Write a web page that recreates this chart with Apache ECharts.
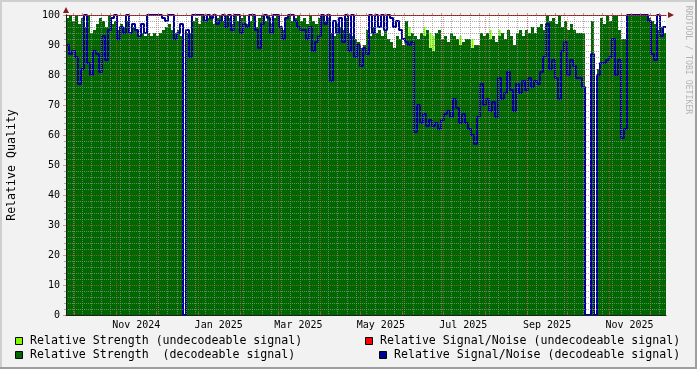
<!DOCTYPE html>
<html><head><meta charset="utf-8">
<script src="https://cdn.jsdelivr.net/npm/echarts@6/dist/echarts.min.js"></script>
<style>html,body{margin:0;padding:0;background:#F2F2F2}#c{width:697px;height:369px}</style>
</head><body><div id="c"></div>
<script>
// ---- data ----
const START = Date.UTC(2024, 8, 25);
const DAY = 86400000;
const SPAN_DAYS = 444;
const END = START + SPAN_DAYS * DAY;

// Relative Strength (decodeable signal), one sample per step
const strengthDecodeable = [
 99,100,98,100,97,99,96,100,94,95,
 97,99,98,96,100,97,98,95,97,96,
 98,94,96,95,93,94,93,94,93,94,
 93,94,95,96,97,95,94,95,93,0,
 94,94,98,99,97,100,98,99,100,97,
 99,100,98,100,99,97,100,98,99,100,
 97,98,100,96,99,100,98,100,97,99,
 100,96,95,99,100,98,99,100,98,99,
 97,100,98,97,99,100,98,99,94,93,
 97,96,95,99,94,93,92,91,89,90,
 95,93,96,94,95,93,95,92,91,89,
 93,92,90,98,93,94,93,92,94,93,
 95,89,88,94,95,92,93,91,94,93,
 92,90,91,92,92,89,90,90,94,93,
 94,92,93,91,93,94,92,95,93,90,
 94,95,93,95,94,96,94,96,97,95,
 100,98,99,97,100,96,98,95,97,95,
 94,94,94,0,0,98,0,82,99,97,
 100,98,100,100,95,92,92,100,100,100,
 100,100,100,100,99,98,97,95,96,94
];
// Relative Signal/Noise (decodeable signal)
const snrDecodeable = [
 90,87,88,86,77,82,100,84,80,88,
 87,81,93,85,95,99,100,92,96,94,
 100,94,97,95,93,97,94,100,100,100,
 100,100,99,98,100,100,92,94,97,0,
 95,86,100,100,100,100,98,100,99,100,
 97,98,100,96,100,95,100,100,94,97,
 96,100,100,95,89,97,100,99,94,100,
 100,96,92,99,100,100,98,96,95,95,
 92,96,88,91,93,100,97,100,78,98,
 94,99,91,100,88,100,86,90,83,89,
 87,100,94,100,96,100,95,100,99,96,
 98,95,92,91,90,91,61,70,64,67,
 63,65,63,64,62,65,67,68,66,72,
 69,64,67,64,62,60,57,66,77,70,
 72,68,71,66,79,72,74,81,75,68,
 77,74,78,75,79,76,78,77,81,86,
 97,82,85,79,72,88,91,80,85,83,
 79,79,76,0,0,87,0,80,84,84,
 85,86,92,80,85,59,62,100,100,100,
 100,100,100,100,98,87,85,100,93,96
];
// Relative Strength (undecodeable signal): sample index -> value
const strengthUndecIdx = [114, 119, 121, 122, 131, 135, 141, 144];
const strengthUndecVal = [96, 96, 94, 93, 93, 92, 95, 95];
// Relative Signal/Noise (undecodeable signal): no visible samples
const snrUndecodeable = [];

const xLabelText = ['Nov 2024','Jan 2025','Mar 2025','May 2025','Jul 2025','Sep 2025','Nov 2025'];
const xLabelDates = [Date.UTC(2024,10,16), Date.UTC(2025,0,16), Date.UTC(2025,2,16), Date.UTC(2025,4,16),
                     Date.UTC(2025,6,16), Date.UTC(2025,8,16), Date.UTC(2025,10,16)];
const legendNames = [
 'Relative Strength (undecodeable signal)',
 'Relative Signal/Noise (undecodeable signal)',
 'Relative Strength  (decodeable signal)',
 'Relative Signal/Noise (decodeable signal)'
];

// ---- styling ----
const FONT = '"DejaVu Sans Mono", monospace';
const GREEN = '#006600', LGREEN = '#7CFC00', RED = '#FF0000', BLUE = '#000096';
const GRID = 'rgba(143,143,143,0.75)';
const MGRID = 'rgba(222,79,79,0.6)';
const ARROW = '#801F1F';
const AXIS = '#1F1F1F';

const STEP = SPAN_DAYS * DAY / strengthDecodeable.length;
const tAt = i => START + i * STEP;
const withEnd = arr => {
  const d = arr.map((v, i) => [tAt(i), v]);
  d.push([END, arr[arr.length - 1]]);
  return d;
};
const monthStarts = [];
for (let y = 2024, m = 9; ; m++) {
  if (m > 11) { m = 0; y++; }
  const t = Date.UTC(y, m, 1);
  if (t > END) break;
  monthStarts.push(t);
}
const weekStarts = [];
for (let t = Date.UTC(2024, 8, 30); t <= END; t += 7 * DAY) weekStarts.push(t);

const chart = echarts.init(document.getElementById('c'), null, {renderer: 'canvas'});

const dotted = c => ({color: c, width: 1, type: [1, 1]});

const option = {
  animation: false,
  backgroundColor: '#F2F2F2',
  grid: {left: 66, top: 15, width: 600, height: 300, show: true, backgroundColor: '#FFFFFF', borderWidth: 0},
  xAxis: [
    {type: 'value', min: START, max: END, z: 12,
     axisLine: {show: true, lineStyle: {color: AXIS, width: 1}},
     axisTick: {show: false}, splitLine: {show: false},
     axisLabel: {customValues: xLabelDates, margin: 5, color: '#000', fontFamily: FONT, fontSize: 10,
                 formatter: v => { const k = xLabelDates.indexOf(v); return k >= 0 ? xLabelText[k] : ''; }}},
    {type: 'value', min: START, max: END, z: 11,
     axisLine: {show: false}, axisLabel: {show: false},
     axisTick: {show: true, customValues: monthStarts, length: 3, lineStyle: {color: MGRID}},
     splitLine: {show: true, lineStyle: dotted(MGRID)}},
    {type: 'value', min: START, max: END, z: 10,
     axisLine: {show: true, lineStyle: {color: ARROW, width: 1}, symbol: ['none', 'triangle'], symbolSize: [6, 6], symbolOffset: [0, 5]},
     axisLabel: {show: false},
     axisTick: {show: true, customValues: weekStarts, length: 2, lineStyle: {color: GRID}},
     splitLine: {show: true, lineStyle: dotted(GRID)}}
  ],
  yAxis: [
    {type: 'value', min: 0, max: 100, interval: 10, position: 'left', z: 12,
     axisLine: {show: true, lineStyle: {color: AXIS, width: 1}},
     axisTick: {show: true, length: 3, lineStyle: {color: MGRID}},
     axisLabel: {margin: 6, color: '#000', fontFamily: FONT, fontSize: 10},
     splitLine: {show: true, lineStyle: dotted(MGRID)},
     minorTick: {show: true, splitNumber: 5, length: 2, lineStyle: {color: GRID}},
     minorSplitLine: {show: true, lineStyle: dotted(GRID)}},
    {type: 'value', min: 0, max: 100, interval: 10, position: 'left', z: 10,
     axisLine: {show: true, lineStyle: {color: ARROW, width: 1}, symbol: ['none', 'triangle'], symbolSize: [6, 6], symbolOffset: [0, 5]},
     axisTick: {show: false}, axisLabel: {show: false}, splitLine: {show: false}}
  ],
  series: [
    {name: legendNames[0], type: 'bar', xAxisIndex: 0, yAxisIndex: 0, barWidth: 2, z: 1,
     itemStyle: {color: LGREEN},
     data: strengthUndecIdx.map((i, k) => [tAt(i) + STEP / 2, strengthUndecVal[k]])},
    {name: legendNames[2], type: 'line', step: 'end', xAxisIndex: 0, yAxisIndex: 0, z: 2,
     symbol: 'none', lineStyle: {width: 0}, areaStyle: {color: GREEN, opacity: 1}, itemStyle: {color: GREEN},
     data: withEnd(strengthDecodeable)},
    {name: legendNames[1], type: 'line', xAxisIndex: 0, yAxisIndex: 0, z: 3, symbol: 'none',
     lineStyle: {color: RED, width: 1.5}, data: snrUndecodeable},
    {name: legendNames[3], type: 'line', step: 'end', xAxisIndex: 0, yAxisIndex: 0, z: 4,
     symbol: 'none', lineStyle: {color: BLUE, width: 2}, itemStyle: {color: BLUE},
     data: withEnd(snrDecodeable)}
  ],
  graphic: [
    {type: 'rect', shape: {x: 0, y: 0, width: 697, height: 2}, style: {fill: '#CFCFCF'}, silent: true},
    {type: 'rect', shape: {x: 0, y: 0, width: 2, height: 369}, style: {fill: '#CFCFCF'}, silent: true},
    {type: 'rect', shape: {x: 0, y: 367, width: 697, height: 2}, style: {fill: '#9E9E9E'}, silent: true},
    {type: 'rect', shape: {x: 695, y: 0, width: 2, height: 369}, style: {fill: '#9E9E9E'}, silent: true},
    {type: 'text', x: 12, y: 165, rotation: Math.PI / 2,
     style: {text: 'Relative Quality', align: 'center', verticalAlign: 'middle', fill: '#000', font: '11.6px ' + FONT}},
    {type: 'text', x: 688, y: 60, rotation: -Math.PI / 2,
     style: {text: 'RRDTOOL / TOBI OETIKER', align: 'center', verticalAlign: 'middle', fill: '#B4B4B4', font: '8.2px ' + FONT}},
    {type: 'rect', shape: {x: 15.5, y: 337.5, width: 7, height: 7}, style: {fill: LGREEN, stroke: '#000', lineWidth: 1}},
    {type: 'text', x: 30, y: 341, style: {text: legendNames[0], verticalAlign: 'middle', fill: '#000', font: '11.6px ' + FONT}},
    {type: 'rect', shape: {x: 365.5, y: 337.5, width: 7, height: 7}, style: {fill: RED, stroke: '#000', lineWidth: 1}},
    {type: 'text', x: 380, y: 341, style: {text: legendNames[1], verticalAlign: 'middle', fill: '#000', font: '11.6px ' + FONT}},
    {type: 'rect', shape: {x: 15.5, y: 351.5, width: 7, height: 7}, style: {fill: GREEN, stroke: '#000', lineWidth: 1}},
    {type: 'text', x: 30, y: 355, style: {text: legendNames[2], verticalAlign: 'middle', fill: '#000', font: '11.6px ' + FONT}},
    {type: 'rect', shape: {x: 379.5, y: 351.5, width: 7, height: 7}, style: {fill: BLUE, stroke: '#000', lineWidth: 1}},
    {type: 'text', x: 394, y: 355, style: {text: legendNames[3], verticalAlign: 'middle', fill: '#000', font: '11.6px ' + FONT}}
  ]
};
chart.setOption(option);
</script>
</body></html>
